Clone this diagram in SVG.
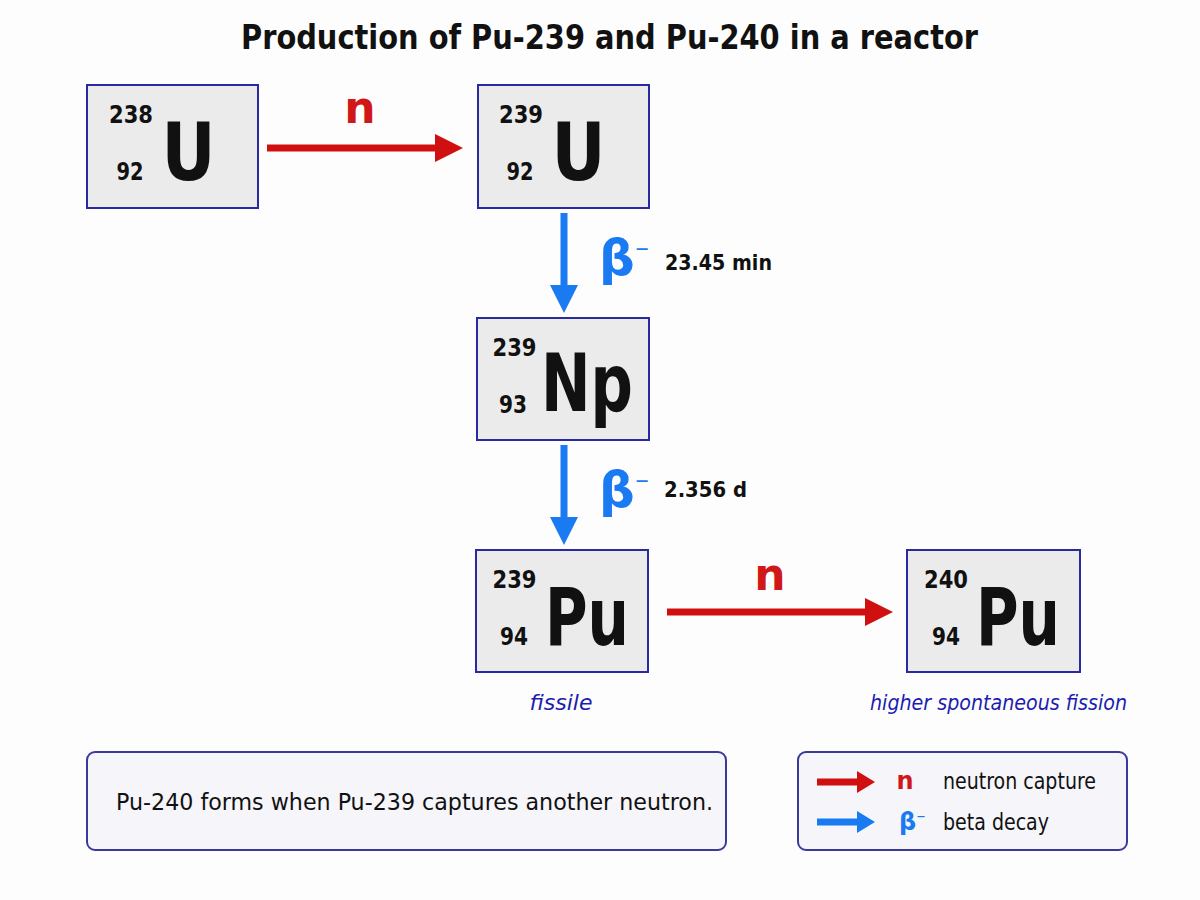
<svg xmlns="http://www.w3.org/2000/svg" width="1200" height="900" viewBox="0 0 1200 900">
<defs>
<style>
.box{fill:#ebebeb;stroke:#2a2aa0;stroke-width:2}
.num{font-family:"DejaVu Sans","Liberation Sans",sans-serif;font-weight:bold;font-size:24px;fill:#111;text-anchor:middle}
.sym{font-family:"DejaVu Sans","Liberation Sans",sans-serif;font-weight:bold;font-size:80px;fill:#111;text-anchor:middle}
.red{stroke:#d01010;stroke-width:7;fill:none}
.blue{stroke:#1a7af2;stroke-width:7;fill:none}
.nlab{font-family:"DejaVu Sans","Liberation Sans",sans-serif;font-weight:bold;font-size:44px;fill:#d01818;text-anchor:middle}
.blab{font-family:"DejaVu Sans","Liberation Sans",sans-serif;font-weight:bold;font-size:50px;fill:#1a7af2}
.time{font-family:"DejaVu Sans","Liberation Sans",sans-serif;font-weight:bold;font-size:21px;fill:#111}
.note{font-family:"DejaVu Sans","Liberation Sans",sans-serif;font-style:italic;font-size:22px;fill:#1c1cb0;text-anchor:middle}
.panel{fill:#f5f5fa;stroke:#3a3a9c;stroke-width:2}
.ptext{font-family:"DejaVu Sans","Liberation Sans",sans-serif;font-size:23px;fill:#111}
</style>
<marker id="hr" viewBox="0 0 4 4" refX="0" refY="2" markerWidth="4" markerHeight="4" orient="auto" markerUnits="strokeWidth"><path d="M0,0 L4,2 L0,4 z" fill="#d01010"/></marker>
<marker id="hb" viewBox="0 0 4 4" refX="0" refY="2" markerWidth="4" markerHeight="4" orient="auto" markerUnits="strokeWidth"><path d="M0,0 L4,2 L0,4 z" fill="#1a7af2"/></marker>
<marker id="lr" viewBox="0 0 18 22" refX="0" refY="11" markerWidth="18" markerHeight="22" orient="auto" markerUnits="userSpaceOnUse"><path d="M0,0 L18,11 L0,22 z" fill="#d01010"/></marker>
<marker id="lb" viewBox="0 0 18 22" refX="0" refY="11" markerWidth="18" markerHeight="22" orient="auto" markerUnits="userSpaceOnUse"><path d="M0,0 L18,11 L0,22 z" fill="#1a7af2"/></marker>
</defs>
<rect width="1200" height="900" fill="#fdfdfd"/>
<text x="609.5" y="49" font-family="DejaVu Sans, Liberation Sans, sans-serif" font-weight="bold" font-size="33" fill="#111" text-anchor="middle" textLength="737" lengthAdjust="spacingAndGlyphs">Production of Pu-239 and Pu-240 in a reactor</text>

<g id="connectors">
<path class="red" d="M267,148 L435,148" marker-end="url(#hr)"/>
<text class="nlab" x="360" y="123">n</text>
<path class="blue" d="M564,213 L564,285" marker-end="url(#hb)"/>
<text class="blab" x="599" y="275">β<tspan font-size="28" dy="-12">⁻</tspan></text>
<text class="time" x="665" y="270" textLength="107" lengthAdjust="spacingAndGlyphs">23.45 min</text>
<path class="blue" d="M564,445 L564,517" marker-end="url(#hb)"/>
<text class="blab" x="599" y="507">β<tspan font-size="28" dy="-12">⁻</tspan></text>
<text class="time" x="664" y="497" textLength="83" lengthAdjust="spacingAndGlyphs">2.356 d</text>
<path class="red" d="M667,612 L865,612" marker-end="url(#hr)"/>
<text class="nlab" x="770" y="590">n</text>
</g>

<g id="u238">
<rect class="box" x="87" y="85" width="171" height="123"/>
<text class="num" x="131" y="123" textLength="44" lengthAdjust="spacingAndGlyphs">238</text>
<text class="num" x="130" y="180" textLength="27" lengthAdjust="spacingAndGlyphs">92</text>
<text class="sym" x="188.5" y="180" textLength="54" lengthAdjust="spacingAndGlyphs">U</text>
</g>
<g id="u239">
<rect class="box" x="478" y="85" width="171" height="123"/>
<text class="num" x="521" y="123" textLength="44" lengthAdjust="spacingAndGlyphs">239</text>
<text class="num" x="520" y="180" textLength="27" lengthAdjust="spacingAndGlyphs">92</text>
<text class="sym" x="578.5" y="180" textLength="54" lengthAdjust="spacingAndGlyphs">U</text>
</g>
<g id="np239">
<rect class="box" x="477" y="318" width="172" height="122"/>
<text class="num" x="514.5" y="356" textLength="44" lengthAdjust="spacingAndGlyphs">239</text>
<text class="num" x="513" y="413" textLength="28" lengthAdjust="spacingAndGlyphs">93</text>
<text class="sym" x="587" y="411" textLength="92" lengthAdjust="spacingAndGlyphs">Np</text>
</g>
<g id="pu239">
<rect class="box" x="476" y="550" width="172" height="122"/>
<text class="num" x="514.5" y="588" textLength="44" lengthAdjust="spacingAndGlyphs">239</text>
<text class="num" x="514" y="645" textLength="28" lengthAdjust="spacingAndGlyphs">94</text>
<text class="sym" x="587" y="645" textLength="84" lengthAdjust="spacingAndGlyphs">Pu</text>
<text class="note" x="561" y="710">fissile</text>
</g>
<g id="pu240">
<rect class="box" x="907" y="550" width="173" height="122"/>
<text class="num" x="946" y="588" textLength="44" lengthAdjust="spacingAndGlyphs">240</text>
<text class="num" x="946" y="645" textLength="28" lengthAdjust="spacingAndGlyphs">94</text>
<text class="sym" x="1018" y="645" textLength="84" lengthAdjust="spacingAndGlyphs">Pu</text>
<text class="note" x="998.5" y="710" textLength="257" lengthAdjust="spacingAndGlyphs">higher spontaneous fission</text>
</g>

<g id="note-box">
<rect class="panel" x="87" y="752" width="639" height="98" rx="8"/>
<text class="ptext" x="116" y="810" textLength="597" lengthAdjust="spacingAndGlyphs">Pu-240 forms when Pu-239 captures another neutron.</text>
</g>
<g id="legend">
<rect class="panel" x="798" y="752" width="329" height="98" rx="8"/>
<path class="red" d="M817,782 L857,782" marker-end="url(#lr)"/>
<text x="905" y="789" font-family="DejaVu Sans, Liberation Sans, sans-serif" font-weight="bold" font-size="24" fill="#d01818" text-anchor="middle">n</text>
<text class="ptext" x="943" y="789" font-size="21" textLength="153" lengthAdjust="spacingAndGlyphs">neutron capture</text>
<path class="blue" d="M817,822 L857,822" marker-end="url(#lb)"/>
<text x="899" y="830" font-family="DejaVu Sans, Liberation Sans, sans-serif" font-weight="bold" font-size="24" fill="#1a7af2">β<tspan font-size="18" dy="-4">⁻</tspan></text>
<text class="ptext" x="943" y="830" font-size="21" textLength="106" lengthAdjust="spacingAndGlyphs">beta decay</text>
</g>
</svg>
